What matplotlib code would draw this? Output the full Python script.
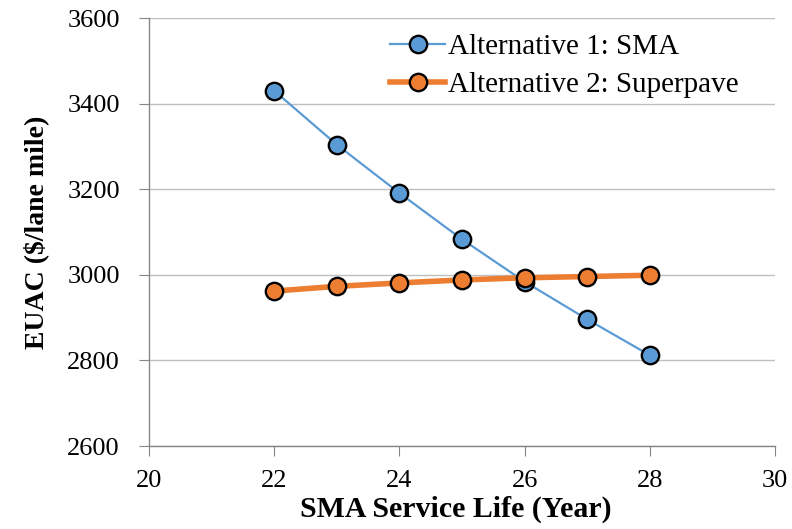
import matplotlib
matplotlib.use("Agg")
import matplotlib.pyplot as plt

plt.rcParams['font.family'] = ['Liberation Serif', 'DejaVu Serif']

years = [22, 23, 24, 25, 26, 27, 28]
sma = [3430, 3304, 3191, 3083, 2984, 2896, 2812]
superpave = [2962, 2973, 2981, 2988, 2993, 2996, 2999]
xticks = [20, 22, 24, 26, 28, 30]
yticks = [2600, 2800, 3000, 3200, 3400, 3600]

fig = plt.figure(figsize=(7.92, 5.29), dpi=100)
ax = fig.add_axes([149/792, (529-446)/529, (775-149)/792, (446-18)/529])

ax.plot(years, sma, color='#5B9BD5', lw=1.6, marker='o', ms=12.5,
        mfc='#5B9BD5', mec='black', mew=1.7, label='Alternative 1: SMA', zorder=3)
ax.plot(years, superpave, color='#ED7D31', lw=4, marker='o', ms=12.5,
        mfc='#ED7D31', mec='black', mew=1.7, label='Alternative 2: Superpave', zorder=4)

ax.set_xlim(20, 30)
ax.set_ylim(2600, 3600)
ax.set_xticks(xticks)
ax.set_yticks(yticks)
ax.grid(axis='y', color='#BFBFBF', lw=1)
ax.set_axisbelow(True)
for s in ['top', 'right']:
    ax.spines[s].set_visible(False)
for s in ['left', 'bottom']:
    ax.spines[s].set_color('#868686')
    ax.spines[s].set_linewidth(1)
ax.tick_params(axis='both', direction='out', length=7, color='#868686',
               labelsize=19)
ax.tick_params(axis='y', pad=14)
ax.tick_params(axis='x', pad=10.5)

ax.set_xlabel('SMA Service Life (Year)', fontsize=21.5, fontweight='bold')
ax.set_ylabel('EUAC ($/lane mile)', fontsize=20, fontweight='bold')
ax.xaxis.set_label_coords(0.49, -0.117)
ax.yaxis.set_label_coords(-0.16, 0.5)

leg = ax.legend(loc='upper left', bbox_to_anchor=((390-149)/626, 0.963),
                frameon=False, fontsize=21, handlelength=1.9,
                handletextpad=0.1, borderaxespad=0, borderpad=0,
                labelspacing=0.4)

fig.savefig('out.png', dpi=100)
